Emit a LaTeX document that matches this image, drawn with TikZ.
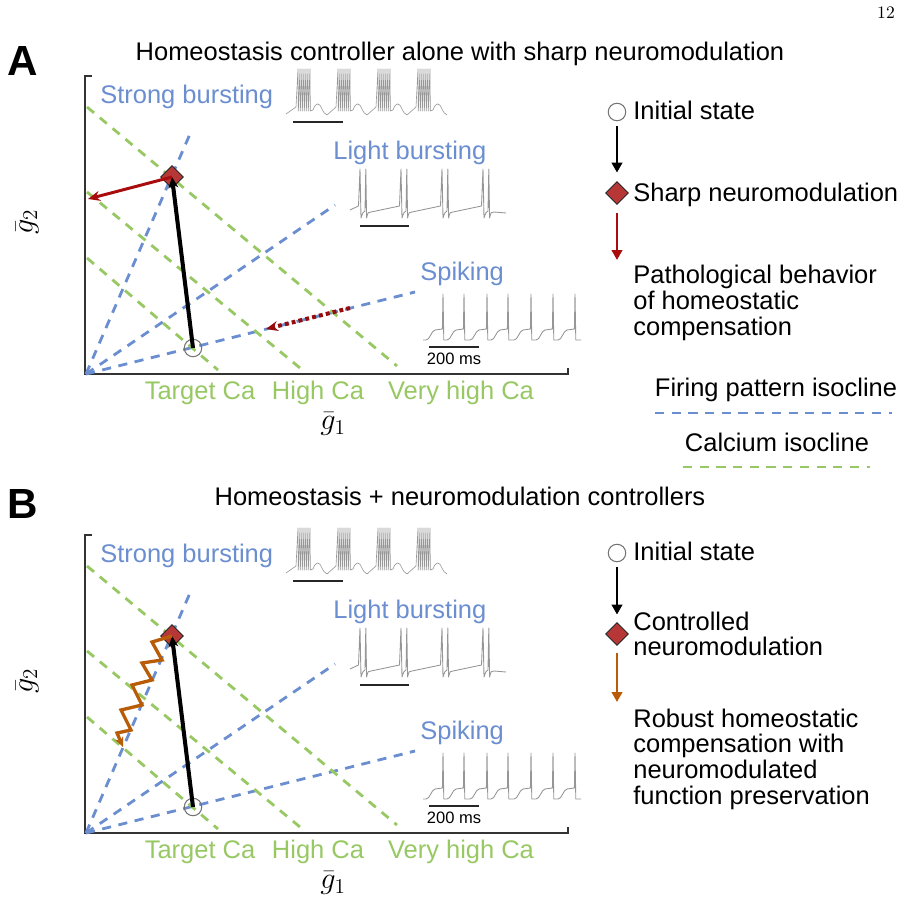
\documentclass[tikz,border=0pt]{standalone}
\usepackage{fontspec}
\newfontfamily\arialfont{Liberation Sans}
\usetikzlibrary{arrows.meta,shapes.geometric}

\definecolor{fireblue}{RGB}{106,142,207}
\definecolor{cagreen}{RGB}{152,200,100}
\definecolor{patred}{RGB}{168,12,12}
\definecolor{modred}{RGB}{183,54,54}
\definecolor{robustorange}{RGB}{184,92,8}
\definecolor{tracegray}{RGB}{150,150,150}

\newcommand{\plotfont}{\arialfont\fontsize{14.5}{14.6}\selectfont}
\newcommand{\smallplotfont}{\arialfont\fontsize{9.4}{10}\selectfont}

\tikzset{
  isofire/.style={fireblue, line width=1.6pt, dash pattern=on 5.2pt off 4.3pt},
  isoca/.style={cagreen, line width=1.6pt, dash pattern=on 5.2pt off 4.3pt},
  trace/.style={tracegray, line width=0.5pt, line join=round},
  scalebar/.style={black!85, line width=0.85pt},
  axisline/.style={black!80, line width=0.8pt},
  initstate/.style={circle, draw=black!55, line width=0.6pt, inner sep=0pt, minimum size=0.35cm},
  modstate/.style={diamond, draw=black!85, line width=0.5pt, fill=modred, inner sep=0pt, minimum size=0.46cm},
  plotlabel/.style={font=\plotfont, inner sep=0pt},
  firelabel/.style={plotlabel, text=fireblue, anchor=base west},
  calabel/.style={plotlabel, text=cagreen, anchor=base},
  smalllabel/.style={font=\smallplotfont, inner sep=0pt},
  glabel/.style={font=\fontsize{17}{17}\selectfont, inner sep=0pt},
  panelletter/.style={font=\arialfont\bfseries\fontsize{24}{24}\selectfont, inner sep=0pt, anchor=base},
  paneltitle/.style={plotlabel, anchor=base},
  homeoarrow/.style={black, line width=2.3pt, -{Stealth[length=0.22cm,width=0.2cm]}},
  patharrow/.style={patred, line width=1.7pt, -{Stealth[length=0.24cm,width=0.2cm]}},
  dotarrow/.style={patred!90!black, line width=2.3pt, dash pattern=on 2.2pt off 1.8pt, -{Stealth[length=0.24cm,width=0.2cm]}},
  robustarrow/.style={robustorange, line width=1.9pt, line join=miter, -{Stealth[length=0.2cm,width=0.18cm]}},
  legarrow/.style={line width=1.7pt, -{Triangle[length=0.2cm,width=0.21cm]}, shorten <=0.1cm},
}

% one phase plane of the two maximal conductances
\def\phaseplane#1{%
  \draw[axisline] (92,76) -- (85,76) -- (85,374) -- (568,374) -- (568,368);
  \coordinate (origin#1) at (86,374);
  % firing pattern isoclines
  \coordinate (endstrong#1) at (190,134);
  \coordinate (endlight#1) at (335,205);
  \coordinate (endspike#1) at (415,292);
  \draw[isofire] (origin#1) -- (endstrong#1);
  \draw[isofire] (origin#1) -- (endlight#1);
  \draw[isofire] (origin#1) -- (endspike#1);
  % calcium isoclines
  \draw[isoca] (87,107) -- (397,366);
  \draw[isoca] (87,192) -- (300,368);
  \draw[isoca] (87,258) -- (218,370);
  % labels
  \node[firelabel] (strong#1) at (100,103) {Strong bursting};
  \node[firelabel] (light#1) at (333,159) {Light bursting};
  \node[firelabel] (spike#1) at (420,280) {Spiking};
  \node[calabel] (target#1) at (200,399) {Target Ca};
  \node[calabel] (high#1) at (318,399) {High Ca};
  \node[calabel] (veryhigh#1) at (461,399) {Very high Ca};
  \node[glabel] (gone#1) at (333,424) {$\bar{g}_1$};
  \node[glabel, rotate=90] (gtwo#1) at (27,222) {$\bar{g}_2$};
  % voltage traces
  \draw[trace, line width=0.35pt] (286,114) \foreach \xo in {298,338,378,418} {
      -- (\xo-2,107) \foreach \i in {0,...,6} { -- (\xo+2*\i,69) -- (\xo+2*\i+0.3,111) }
      -- (\xo+15,110) .. controls (\xo+18,102) and (\xo+21,102) .. (\xo+24,109)
      .. controls (\xo+26,113) .. (\xo+29,115) };
  \draw[trace] (350,210) \foreach \xo in {360,401,442,483} {
      -- (\xo-1.5,206) -- (\xo,169) -- (\xo+1,218) .. controls (\xo+3,212) .. (\xo+5,211)
      -- (\xo+5.8,169) -- (\xo+6.6,218) .. controls (\xo+8,212) .. (\xo+11,212) }
      -- (506,213);
  \draw[trace] (423,340) \foreach \xo in {443,464,487,508,531,553,575} {
      -- (\xo-17,340) .. controls (\xo-13,340) and (\xo-12,331) .. (\xo-8,330)
      -- (\xo-0.6,329) -- (\xo,294) -- (\xo+0.8,340) }
      -- (581,340);
  \draw[scalebar] (293,122) -- (343,122);
  \draw[scalebar] (360,226) -- (409,226);
  \draw[scalebar] (429,347) -- (479,347);
  \node[smalllabel, anchor=base] (ms#1) at (454,364) {200 ms};
  % states
  \node[initstate] (init#1) at (193,348) {};
  \node[modstate] (dia#1) at (172,177) {};
  \draw[homeoarrow] (init#1.center) -- (dia#1.center);
}

\begin{document}
\begin{tikzpicture}[x=0.02cm, y=-0.02cm]
\useasboundingbox (0,0) rectangle (920,899);
\node[font=\fontsize{10}{10}\selectfont, inner sep=0pt] (pagenum) at (886,13) {12};

%%%%% PANEL A %%%%%
\node[panelletter] (letterA) at (23,75) {A};
\node[paneltitle] (titleA) at (460,60) {Homeostasis controller alone with sharp neuromodulation};
\phaseplane{A}
\coordinate (pathendA) at (88,199);
\draw[patharrow] (diaA.center) -- (pathendA);
\coordinate (dotstartA) at (350,308);
\coordinate (dotendA) at (266,329);
\draw[dotarrow] (dotstartA) -- (dotendA);

% legend A
\node[initstate] (legInitA) at (617,112) {};
\node[plotlabel, anchor=base west] (legInitTextA) at (633,119) {Initial state};
\node[modstate] (legModA) at (617,193) {};
\node[plotlabel, anchor=base west] (legModTextA) at (633,201) {Sharp neuromodulation};
\draw[legarrow, shorten >=0.17cm] (legInitA) -- (legModA);
\coordinate (legPathEndA) at (617,260);
\draw[legarrow, patred, shorten <=0.16cm] (legModA) -- (legPathEndA);
\node[plotlabel, anchor=west, align=left] (legPathTextA) at (633,303) {Pathological behavior\\of homeostatic\\compensation};
\node[plotlabel, anchor=base] (legFireText) at (776,396) {Firing pattern isocline};
\coordinate (legFireL) at (655,413);
\coordinate (legFireR) at (892,413);
\draw[isofire] (legFireL) -- (legFireR);
\node[plotlabel, anchor=base] (legCaText) at (777,451) {Calcium isocline};
\coordinate (legCaL) at (683,467);
\coordinate (legCaR) at (870,467);
\draw[isoca] (legCaL) -- (legCaR);

%%%%% PANEL B %%%%%
\node[panelletter] (letterB) at (23,518) {B};
\node[paneltitle] (titleB) at (460,505) {Homeostasis + neuromodulation controllers};
\begin{scope}[shift={(0,459)}]
  \phaseplane{B}
  \coordinate (zigendB) at (123,288);
  \draw[robustarrow] (diaB.center) -- (152,183) -- (162,201) -- (142,204) -- (152,221)
    -- (132,226) -- (142,246) -- (121,251) -- (131,271) -- (117,274) -- (zigendB);
\end{scope}

% legend B
\node[initstate] (legInitB) at (617,553) {};
\node[plotlabel, anchor=base west] (legInitTextB) at (633,560) {Initial state};
\node[modstate] (legModB) at (617,634) {};
\node[plotlabel, anchor=west, align=left] (legModTextB) at (633,634) {Controlled\\neuromodulation};
\draw[legarrow, shorten >=0.15cm] (legInitB) -- (legModB);
\coordinate (legRobustEndB) at (617,702);
\draw[legarrow, robustorange, shorten <=0.15cm] (legModB) -- (legRobustEndB);
\node[plotlabel, anchor=west, align=left] (legRobustTextB) at (633,759) {Robust homeostatic\\compensation with\\neuromodulated\\function preservation};
\end{tikzpicture}
\end{document}
